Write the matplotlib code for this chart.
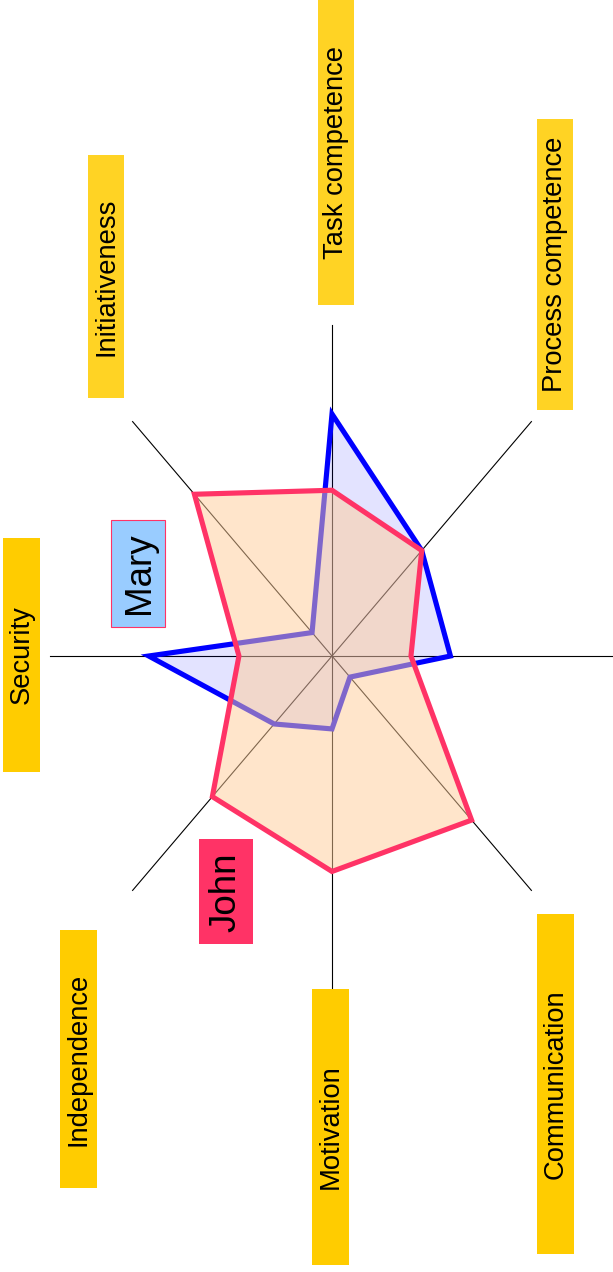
import numpy as np
import matplotlib
matplotlib.use('Agg')
import matplotlib.pyplot as plt
from matplotlib.patches import Rectangle, Polygon

plt.rcParams['font.family'] = ['Liberation Sans', 'DejaVu Sans']

# Kategorien im Uhrzeigersinn, oben beginnend (rechte Achse ohne sichtbares Label)
categories = ['Task competence', 'Process competence', '', 'Communication',
              'Motivation', 'Independence', 'Security', 'Initiativeness']
mary = [0.73, 0.45, 0.42, 0.09, 0.22, 0.29, 0.65, 0.10]
john = [0.50, 0.45, 0.28, 0.70, 0.65, 0.60, 0.33, 0.69]

# Layout in Pixeln (y von oben)
W, H = 613, 1272
cx, cy = 332, 656
rx, ry = 282, 331.5
label_boxes = [(318, 0, 36, 305, '#FFD324'),
               (537, 119, 36, 291, '#FFD324'),
               None,
               (537, 914, 37, 340, '#FFCC00'),
               (312, 989, 37, 276, '#FFCC00'),
               (60, 930, 37, 258, '#FFCC00'),
               (3, 538, 37, 234, '#FFCC00'),
               (88, 155, 36, 243, '#FFD324')]

angles = np.arange(len(categories)) * 2 * np.pi / len(categories)


def to_xy(vals):
    v = np.asarray(vals)
    return np.column_stack([cx + v * rx * np.sin(angles),
                            cy - v * ry * np.cos(angles)])


fig = plt.figure(figsize=(W / 100, H / 100), dpi=100)
ax = fig.add_axes([0, 0, 1, 1])
ax.set_xlim(0, W)
ax.set_ylim(H, 0)
ax.axis('off')

# Achsen
ends = to_xy(np.ones(len(categories)))
for ex, ey in ends:
    ax.plot([cx, ex], [cy, ey], color='black', lw=0.8, zorder=1)

# Mary
ax.add_patch(Polygon(to_xy(mary), closed=True, facecolor=(0, 0, 1, 0.11),
                     edgecolor='#0000FF', lw=3.7, joinstyle='miter', zorder=2))
# John
ax.add_patch(Polygon(to_xy(john), closed=True, facecolor=(1, 0.8, 0.6, 0.5),
                     edgecolor='#FF3366', lw=3.7, joinstyle='miter', zorder=3))

# Beschriftungen
for lab, box in zip(categories, label_boxes):
    if box is None:
        continue
    x0, y0, w, h, col = box
    ax.add_patch(Rectangle((x0, y0), w, h, facecolor=col, edgecolor='none', zorder=4))
    ax.text(x0 + w / 2, y0 + h / 2, lab, rotation=90, ha='center', va='center',
            fontsize=19.7, color='black', zorder=5)

# Legende
ax.add_patch(Rectangle((111, 520), 54, 107, facecolor='#99CCFF', edgecolor='#FF3366',
                       lw=0.8, zorder=4))
ax.text(139, 573, 'Mary', rotation=90, ha='center', va='center', fontsize=26.5, zorder=5)
ax.add_patch(Rectangle((199, 839), 54, 105, facecolor='#FF3366', edgecolor='none', zorder=4))
ax.text(226, 892, 'John', rotation=90, ha='center', va='center', fontsize=26.5, zorder=5)

plt.savefig('out.png', dpi=100)
